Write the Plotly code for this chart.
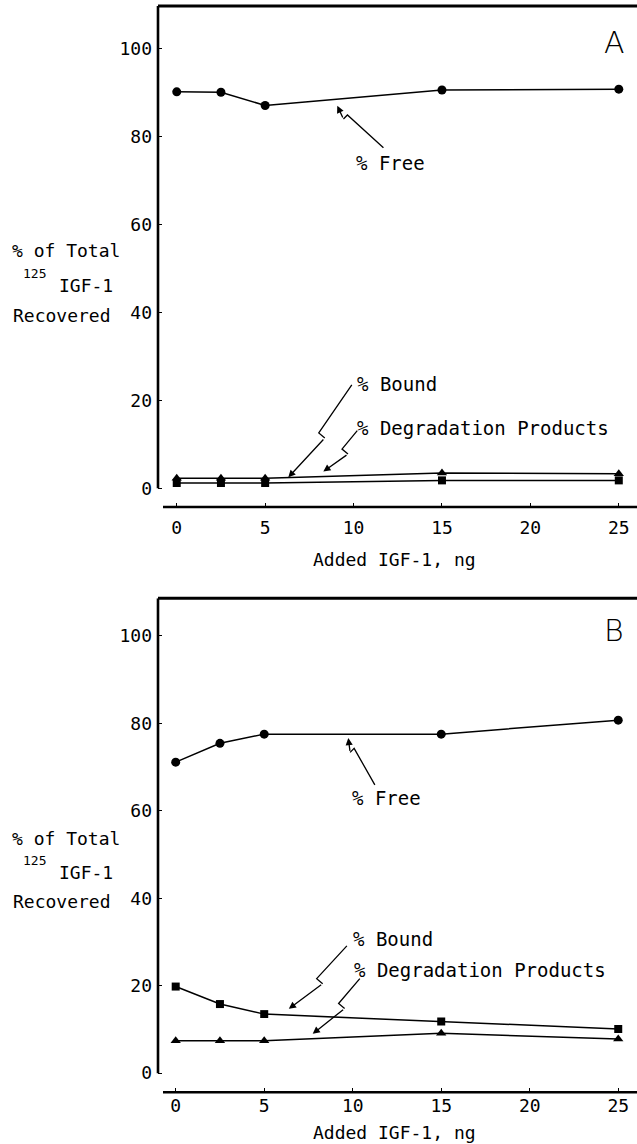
import plotly.graph_objects as go

W, H = 637, 1144

# ---------------- data ----------------
x_ng = [0, 2.5, 5, 15, 25]
a_free = [90.1, 90.0, 87.0, 90.5, 90.7]
a_bound = [1.2, 1.2, 1.2, 1.8, 1.8]
a_degr = [2.3, 2.3, 2.3, 3.5, 3.3]
b_free = [71.1, 75.4, 77.5, 77.5, 80.7]
b_bound = [19.8, 15.8, 13.5, 11.8, 10.1]
b_degr = [7.4, 7.4, 7.4, 9.1, 7.8]
x_ticks = [0, 5, 10, 15, 20, 25]
y_ticks = [0, 20, 40, 60, 80, 100]
x_title = "Added IGF-1, ng"
y_title_lines = ["% of Total", "IGF-1", "Recovered"]
y_title_sup = "125"
lbl_free = "% Free"
lbl_bound = "% Bound"
lbl_degr = "% Degradation Products"

MONO = "DejaVu Sans Mono"
SANS = "DejaVu Sans"
FS = 18
FS_LBL = 19

# ---------------- panel geometry ----------------
panels = {
    "A": dict(xa="x", ya="y", xdom=[158 / W, 1.0], ypx=(6.0, 507.0),
              xr=[-1.06, 26.03], yr=[-4.25, 109.6], xstand=8,
              free=a_free, bound=a_bound, degr=a_degr,
              letter_y=101.3,
              free_lbl=(10.0, 73.9), bound_lbl=(10.1, 23.8), degr_lbl=(10.1, 13.6),
              free_arr=((11.69, 77.4), (9.08, 86.95)),
              bound_arr=((9.9, 23.5), (6.31, 2.5)),
              degr_arr=((10.21, 13.1), (8.29, 3.8)),
              ytitle_px=(251, 274, 285, 315), xtitle_py=559),
    "B": dict(xa="x2", ya="y2", xdom=[158 / W, 1.0], ypx=(598.3, 1092.3),
              xr=[-1.0, 26.06], yr=[-4.37, 108.55], xstand=1,
              free=b_free, bound=b_bound, degr=b_degr,
              letter_y=101.3,
              free_lbl=(9.84, 62.8), bound_lbl=(9.89, 30.7), degr_lbl=(9.95, 23.7),
              free_arr=((11.25, 65.9), (9.75, 76.6)),
              bound_arr=((9.67, 29.1), (6.39, 14.7)),
              degr_arr=((10.4, 21.6), (7.74, 9.0)),
              ytitle_px=(838, 860, 872.6, 901.4), xtitle_py=1132),
}


def ydom(p):
    top, bot = p["ypx"]
    return [1 - bot / H, 1 - top / H]


def to_px(p, x, v):
    xd0, xd1 = p["xdom"]
    yd0, yd1 = ydom(p)
    px = W * (xd0 + (x - p["xr"][0]) / (p["xr"][1] - p["xr"][0]) * (xd1 - xd0))
    py = H * (1 - (yd0 + (v - p["yr"][0]) / (p["yr"][1] - p["yr"][0]) * (yd1 - yd0)))
    return px, py


def from_px(p, px, py):
    xd0, xd1 = p["xdom"]
    yd0, yd1 = ydom(p)
    x = p["xr"][0] + (px / W - xd0) / (xd1 - xd0) * (p["xr"][1] - p["xr"][0])
    v = p["yr"][0] + ((1 - py / H) - yd0) / (yd1 - yd0) * (p["yr"][1] - p["yr"][0])
    return x, v


fig = go.Figure()
shapes = []
annotations = []
layout_axes = {}

for key, p in panels.items():
    xa, ya = p["xa"], p["ya"]
    line = dict(color="black", width=1.5)
    fig.add_trace(go.Scatter(x=x_ng, y=p["free"], mode="lines+markers", xaxis=xa, yaxis=ya,
                             line=line, marker=dict(symbol="circle", size=9, color="black"),
                             name="% Free"))
    fig.add_trace(go.Scatter(x=x_ng, y=p["degr"], mode="lines+markers", xaxis=xa, yaxis=ya,
                             line=line, marker=dict(symbol="triangle-up", size=9, color="black"),
                             name="% Degradation Products"))
    fig.add_trace(go.Scatter(x=x_ng, y=p["bound"], mode="lines+markers", xaxis=xa, yaxis=ya,
                             line=line, marker=dict(symbol="square", size=8, color="black"),
                             name="% Bound"))

    xname = "xaxis" if xa == "x" else "xaxis" + xa[1:]
    yname = "yaxis" if ya == "y" else "yaxis" + ya[1:]
    layout_axes[xname] = dict(
        domain=p["xdom"], range=p["xr"], anchor=ya, tickvals=x_ticks,
        ticks="inside", ticklen=4, tickwidth=1.3, tickcolor="black",
        showline=False, showgrid=False, zeroline=False, ticklabelstandoff=p["xstand"],
        tickfont=dict(family=MONO, size=FS, color="black"))
    layout_axes[yname] = dict(
        domain=ydom(p), range=p["yr"], anchor=xa, tickvals=y_ticks,
        ticks="inside", ticklen=4, tickwidth=1.3, tickcolor="black",
        showline=False, showgrid=False, zeroline=False, ticklabelstandoff=5,
        tickfont=dict(family=MONO, size=FS, color="black"))

    # heavy x-axis line (starting just right of the y axis), left axis line, top border
    x_line_start = from_px(p, 163, 0)[0]
    shapes.append(dict(type="line", xref=xa, yref=ya + " domain", x0=x_line_start, x1=p["xr"][1],
                       y0=0, y1=0, line=dict(color="black", width=2.6)))
    shapes.append(dict(type="line", xref=xa + " domain", yref=ya, x0=0, x1=0,
                       y0=0, y1=p["yr"][1], line=dict(color="black", width=2.6)))
    shapes.append(dict(type="line", xref=xa + " domain", yref=ya + " domain", x0=0, x1=1,
                       y0=1, y1=1, line=dict(color="black", width=3)))

    # panel letter
    annotations.append(dict(x=24.75, y=p["letter_y"], xref=xa, yref=ya, text=key,
                            showarrow=False, font=dict(family=SANS, size=30, color="black", weight=200),
                            xanchor="center", yanchor="middle"))

    # series labels
    for txt, pos in ((lbl_free, p["free_lbl"]), (lbl_bound, p["bound_lbl"]), (lbl_degr, p["degr_lbl"])):
        annotations.append(dict(x=pos[0], y=pos[1], xref=xa, yref=ya, text=txt, showarrow=False,
                                xanchor="left", yanchor="middle",
                                font=dict(family=MONO, size=FS_LBL, color="black")))

    # zig-zag arrows
    for (tail, head), frac, jog in ((p["free_arr"], 0.78, (-4, 4)),
                                     (p["bound_arr"], 0.52, (6, 5)),
                                     (p["degr_arr"], 0.45, (6, 5))):
        tx, ty = to_px(p, *tail)
        hx, hy = to_px(p, *head)
        z1 = (tx + frac * (hx - tx), ty + frac * (hy - ty))
        z2 = (z1[0] + jog[0], z1[1] + jog[1])
        d1 = from_px(p, *z1)
        d2 = from_px(p, *z2)
        path = "M {:.3f},{:.3f} L {:.3f},{:.3f} L {:.3f},{:.3f}".format(tail[0], tail[1], d1[0], d1[1], d2[0], d2[1])
        shapes.append(dict(type="path", xref=xa, yref=ya, path=path,
                           line=dict(color="black", width=1.3)))
        annotations.append(dict(x=head[0], y=head[1], xref=xa, yref=ya,
                                ax=d2[0], ay=d2[1], axref=xa, ayref=ya, text="",
                                showarrow=True, arrowhead=2, arrowsize=1.1, arrowwidth=1.3,
                                arrowcolor="black"))

    # y-axis title (three lines with superscript)
    y1, ysup, y2, y3 = p["ytitle_px"]
    annotations.append(dict(x=10 / W, y=1 - y1 / H, xref="paper", yref="paper", text=y_title_lines[0],
                            showarrow=False, xanchor="left", yanchor="middle",
                            font=dict(family=MONO, size=FS, color="black")))
    annotations.append(dict(x=21 / W, y=1 - ysup / H, xref="paper", yref="paper", text=y_title_sup,
                            showarrow=False, xanchor="left", yanchor="middle",
                            font=dict(family=MONO, size=13, color="black")))
    annotations.append(dict(x=57 / W, y=1 - y2 / H, xref="paper", yref="paper", text=y_title_lines[1],
                            showarrow=False, xanchor="left", yanchor="middle",
                            font=dict(family=MONO, size=FS, color="black")))
    annotations.append(dict(x=11 / W, y=1 - y3 / H, xref="paper", yref="paper", text=y_title_lines[2],
                            showarrow=False, xanchor="left", yanchor="middle",
                            font=dict(family=MONO, size=FS, color="black")))
    # x-axis title
    annotations.append(dict(x=395 / W, y=1 - p["xtitle_py"] / H, xref="paper", yref="paper", text=x_title,
                            showarrow=False, xanchor="center", yanchor="middle",
                            font=dict(family=MONO, size=FS, color="black")))

fig.update_layout(
    width=W, height=H, margin=dict(l=0, r=0, t=0, b=0),
    paper_bgcolor="white", plot_bgcolor="white", showlegend=False,
    shapes=shapes, annotations=annotations, **layout_axes)

fig.write_html("out.html")
